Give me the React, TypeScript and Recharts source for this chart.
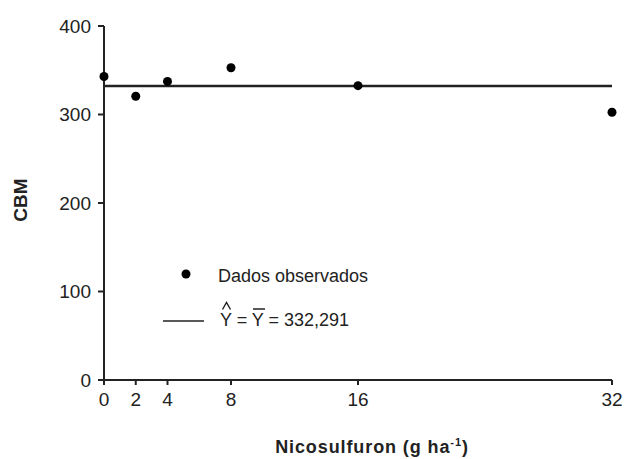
import React from "react";
import {
  ComposedChart,
  Scatter,
  XAxis,
  YAxis,
  ReferenceLine,
} from "recharts";

const doses = [0, 2, 4, 8, 16, 32];
const cbmObserved = [343, 320.6, 337.4, 352.8, 332.6, 302.6];
const meanValue = 332.291;
const xTicks = [0, 2, 4, 8, 16, 32];
const yTicks = [0, 100, 200, 300, 400];

const observed = doses.map((x, i) => ({ x, y: cbmObserved[i] }));

const FONT = "Liberation Sans, Arial, Helvetica, sans-serif";

const LegendOverlay = () => (
  <svg width={624} height={459} style={{ position: "absolute", left: 0, top: 0, pointerEvents: "none" }}>
    <circle cx={186} cy={274} r={4.5} fill="#000" />
    <text x={218} y={277} dominantBaseline="middle" fontFamily={FONT} fontSize={18} fill="#222">
      Dados observados
    </text>
    <line x1={163} x2={204} y1={321} y2={321} stroke="#222" strokeWidth={1.5} />
    <text x={220} y={326} fontFamily={FONT} fontSize={18} fill="#222">
      Y = Y = 332,291
    </text>
    <path d="M222.5 309.5 L226.5 302.5 L230.5 309.5" fill="none" stroke="#222" strokeWidth={1.4} />
    <line x1={253} x2={265} y1={309} y2={309} stroke="#222" strokeWidth={1.5} />
  </svg>
);

const XTitle = (props: any) => {
  const vb = props.viewBox || {};
  const cx = vb.x + vb.width / 2 + 14;
  return (
    <text
      x={cx}
      y={453}
      textAnchor="middle"
      fontFamily={FONT}
      fontSize={18}
      fontWeight="bold"
      letterSpacing={0.9}
      fill="#222"
    >
      Nicosulfuron (g ha
      <tspan dy={-7} fontSize={11}>-1</tspan>
      <tspan dy={7}>)</tspan>
    </text>
  );
};

const YTitle = (props: any) => {
  const vb = props.viewBox || {};
  const cy = vb.y + vb.height / 2 - 3;
  return (
    <text
      x={0}
      y={0}
      transform={`translate(27, ${cy}) rotate(-90)`}
      textAnchor="middle"
      fontFamily={FONT}
      fontSize={19}
      fontWeight="bold"
      fill="#222"
    >
      CBM
    </text>
  );
};

export default function App() {
  return (
    <div style={{ position: "absolute", left: 0, top: 0, width: 624, height: 459, background: "#fff" }}>
      <ComposedChart
        width={624}
        height={459}
        data={observed}
        margin={{ top: 26, right: 12, bottom: 0, left: 0 }}
      >
        <XAxis
          dataKey="x"
          type="number"
          domain={[0, 32]}
          ticks={xTicks}
          interval={0}
          height={79}
          tickSize={5}
          tickMargin={8}
          stroke="#222"
          strokeWidth={2}
          tick={{ fill: "#222", fontSize: 19, fontFamily: FONT }}
          label={<XTitle />}
        />
        <YAxis
          type="number"
          domain={[0, 400]}
          ticks={yTicks}
          interval={0}
          width={104}
          tickSize={6}
          tickMargin={7}
          stroke="#222"
          strokeWidth={2}
          tick={{ fill: "#222", fontSize: 19, fontFamily: FONT }}
          label={<YTitle />}
        />
        <ReferenceLine y={meanValue} stroke="#222" strokeWidth={2.5} />
        <Scatter
          dataKey="y"
          fill="#000"
          isAnimationActive={false}
          shape={(p: any) => <circle cx={p.cx} cy={p.cy} r={4.5} fill="#000" />}
        />
      </ComposedChart>
      <LegendOverlay />
    </div>
  );
}
